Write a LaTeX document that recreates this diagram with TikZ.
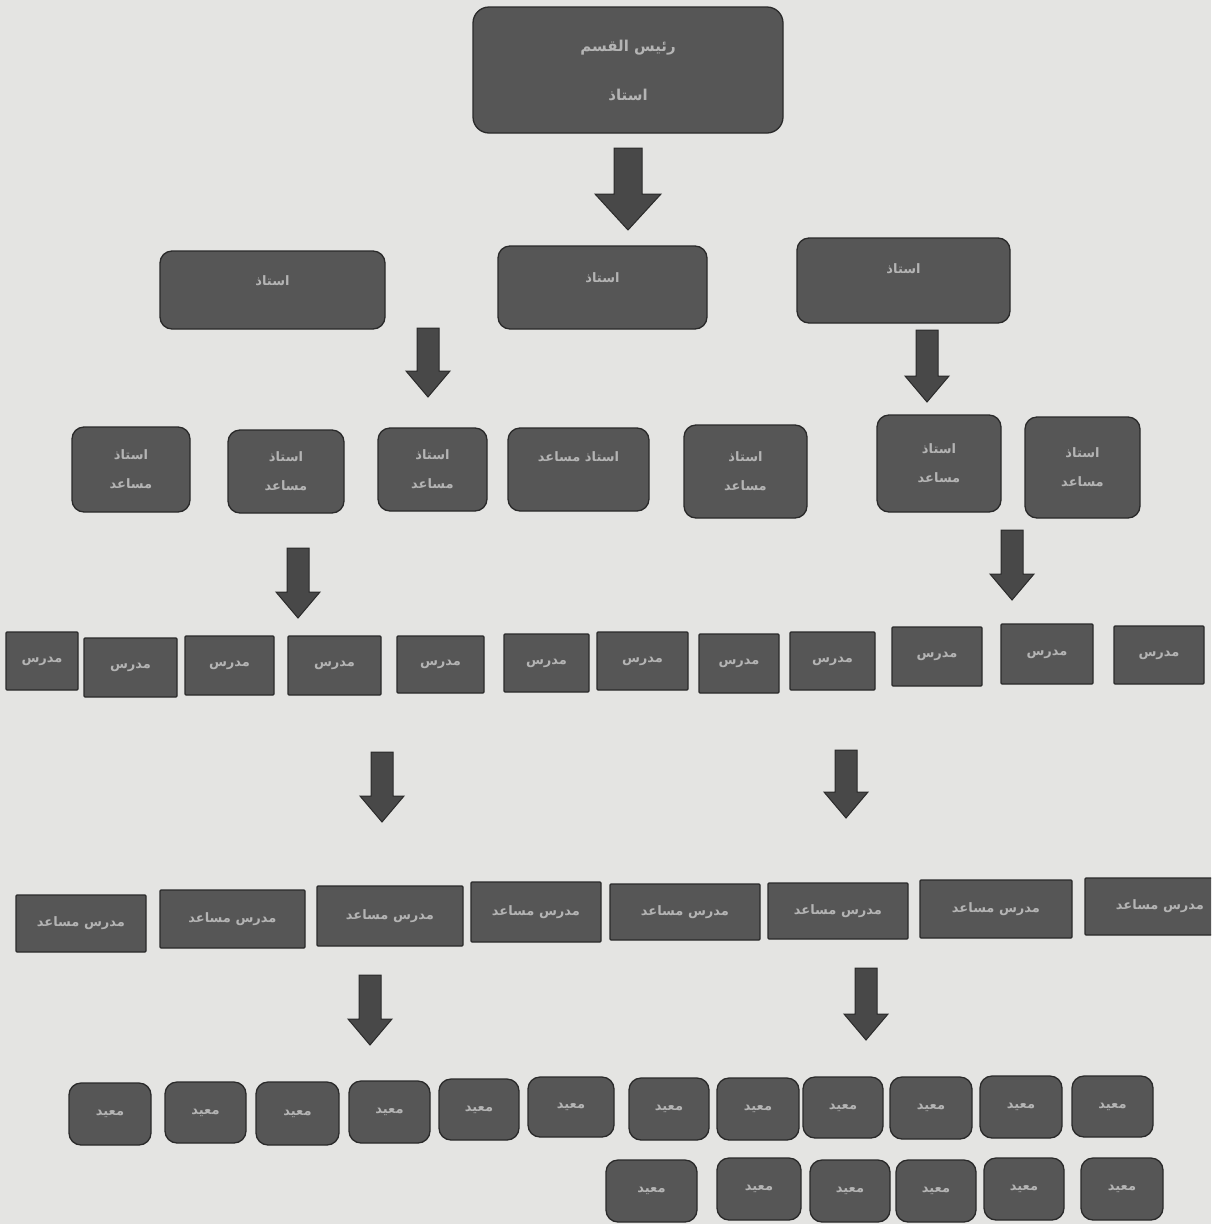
\documentclass[tikz,border=0pt]{standalone}
\usepackage{fontspec}
\newfontfamily\arabicfont[Script=Arabic]{DejaVu Sans}
\TeXXeTstate=1
\usepackage{tikz}

\definecolor{paper}{RGB}{228,228,226}
\definecolor{boxgray}{RGB}{86,86,86}
\definecolor{boxline}{RGB}{42,42,42}
\definecolor{boxtext}{RGB}{180,180,180}
\definecolor{arrowgray}{RGB}{72,72,72}

\newcommand{\artxt}[1]{\beginR #1\endR}
% block arrow: centre x, top y, tip y, shaft half width, head half width, head length
\newcommand{\blkarrow}[6]{%
  \draw[blockarrow] ({#1-#4},#2) -- ({#1+#4},#2) -- ({#1+#4},{#3-#6}) -- ({#1+#5},{#3-#6})
    -- (#1,#3) -- ({#1-#5},{#3-#6}) -- ({#1-#4},{#3-#6}) -- cycle;}

\tikzset{
  post/.style={draw=boxline, fill=boxgray, text=boxtext, line width=1.3pt, inner sep=0pt,
    align=center, font=\arabicfont\bfseries\fontsize{13}{15}\selectfont},
  rbox/.style={post, rounded corners=12pt},
  sbox/.style={post, rounded corners=1pt},
  dims/.style 2 args={minimum width=#1pt, minimum height=#2pt},
  blockarrow/.style={draw=boxline, fill=arrowgray, line width=1pt, line join=miter}
}

\begin{document}
\begin{tikzpicture}[x=1pt,y=-1pt]
    % Page
    \useasboundingbox (0,0) rectangle (1211,1224);
    \clip (0,0) rectangle (1211,1224);
    \fill[paper] (0,0) rectangle (1211,1224);
    % Head of department
    \node (head) at (628,70) [rbox, rounded corners=16pt, dims={310}{126},
      font=\arabicfont\bfseries\fontsize{15}{17}\selectfont]
      {\artxt{رئيس القسم}\\[32pt]\artxt{استاذ}};
    % Professors
    \node (pL) at (272.5,290) [rbox, dims={225}{78}] {\artxt{استاذ}\\[4pt]};
    \node (pM) at (602.5,287.5) [rbox, dims={209}{83}] {\artxt{استاذ}\\[4pt]};
    \node (pR) at (903.5,280.5) [rbox, dims={213}{85}] {\artxt{استاذ}\\[8pt]};
    % Assistant professors
    \node (ap1) at (131,469.5) [rbox, dims={118}{85}] {\artxt{استاذ}\\[14pt]\artxt{مساعد}};
    \node (ap2) at (286,471.5) [rbox, dims={116}{83}] {\artxt{استاذ}\\[14pt]\artxt{مساعد}};
    \node (ap3) at (432.5,469.5) [rbox, dims={109}{83}] {\artxt{استاذ}\\[14pt]\artxt{مساعد}};
    \node (ap4) at (578.5,469.5) [rbox, dims={141}{83}] {\artxt{استاذ مساعد}\\[10pt]};
    \node (ap5) at (745.5,471.5) [rbox, dims={123}{93}] {\artxt{استاذ}\\[14pt]\artxt{مساعد}};
    \node (ap6) at (939,463.5) [rbox, dims={124}{97}] {\artxt{استاذ}\\[14pt]\artxt{مساعد}};
    \node (ap7) at (1082.5,467.5) [rbox, dims={115}{101}] {\artxt{استاذ}\\[14pt]\artxt{مساعد}};
    % Lecturers
    \node (l1) at (42,661) [sbox, dims={72}{58}] {\artxt{مدرس}};
    \node (l2) at (130.5,667.5) [sbox, dims={93}{59}] {\artxt{مدرس}};
    \node (l3) at (229.5,665.5) [sbox, dims={89}{59}] {\artxt{مدرس}};
    \node (l4) at (334.5,665.5) [sbox, dims={93}{59}] {\artxt{مدرس}};
    \node (l5) at (440.5,664.5) [sbox, dims={87}{57}] {\artxt{مدرس}};
    \node (l6) at (546.5,663) [sbox, dims={85}{58}] {\artxt{مدرس}};
    \node (l7) at (642.5,661) [sbox, dims={91}{58}] {\artxt{مدرس}};
    \node (l8) at (739,663.5) [sbox, dims={80}{59}] {\artxt{مدرس}};
    \node (l9) at (832.5,661) [sbox, dims={85}{58}] {\artxt{مدرس}};
    \node (l10) at (937,656.5) [sbox, dims={90}{59}] {\artxt{مدرس}};
    \node (l11) at (1047,654) [sbox, dims={92}{60}] {\artxt{مدرس}};
    \node (l12) at (1159,655) [sbox, dims={90}{58}] {\artxt{مدرس}};
    % Assistant lecturers
    \node (al1) at (81,923.5) [sbox, dims={130}{57}] {\artxt{مدرس مساعد}};
    \node (al2) at (232.5,919) [sbox, dims={145}{58}] {\artxt{مدرس مساعد}};
    \node (al3) at (390,916) [sbox, dims={146}{60}] {\artxt{مدرس مساعد}};
    \node (al4) at (536,912) [sbox, dims={130}{60}] {\artxt{مدرس مساعد}};
    \node (al5) at (685,912) [sbox, dims={150}{56}] {\artxt{مدرس مساعد}};
    \node (al6) at (838,911) [sbox, dims={140}{56}] {\artxt{مدرس مساعد}};
    \node (al7) at (996,909) [sbox, dims={152}{58}] {\artxt{مدرس مساعد}};
    \node (al8) at (1160,906.5) [sbox, dims={150}{57}] {\artxt{مدرس مساعد}};
    % Demonstrators, first row
    \node (d1) at (110,1114) [rbox, dims={82}{62}] {\artxt{معيد}};
    \node (d2) at (205.5,1112.5) [rbox, dims={81}{61}] {\artxt{معيد}};
    \node (d3) at (297.5,1113.5) [rbox, dims={83}{63}] {\artxt{معيد}};
    \node (d4) at (389.5,1112) [rbox, dims={81}{62}] {\artxt{معيد}};
    \node (d5) at (479,1109.5) [rbox, dims={80}{61}] {\artxt{معيد}};
    \node (d6) at (571,1107) [rbox, dims={86}{60}] {\artxt{معيد}};
    \node (d7) at (669,1109) [rbox, dims={80}{62}] {\artxt{معيد}};
    \node (d8) at (758,1109) [rbox, dims={82}{62}] {\artxt{معيد}};
    \node (d9) at (843,1107.5) [rbox, dims={80}{61}] {\artxt{معيد}};
    \node (d10) at (931,1108) [rbox, dims={82}{62}] {\artxt{معيد}};
    \node (d11) at (1021,1107) [rbox, dims={82}{62}] {\artxt{معيد}};
    \node (d12) at (1112.5,1106.5) [rbox, dims={81}{61}] {\artxt{معيد}};
    % Demonstrators, second row
    \node (e1) at (651.5,1191) [rbox, dims={91}{62}] {\artxt{معيد}};
    \node (e2) at (759,1189) [rbox, dims={84}{62}] {\artxt{معيد}};
    \node (e3) at (850,1191) [rbox, dims={80}{62}] {\artxt{معيد}};
    \node (e4) at (936,1191) [rbox, dims={80}{62}] {\artxt{معيد}};
    \node (e5) at (1024,1189) [rbox, dims={80}{62}] {\artxt{معيد}};
    \node (e6) at (1122,1189) [rbox, dims={82}{62}] {\artxt{معيد}};
    % Arrows
    \blkarrow{628}{148}{230}{14}{33}{36}
    \blkarrow{428}{328}{397}{11}{22}{26}
    \blkarrow{927}{330}{402}{11}{22}{26}
    \blkarrow{298}{548}{618}{11}{22}{26}
    \blkarrow{1012}{530}{600}{11}{22}{26}
    \blkarrow{382}{752}{822}{11}{22}{26}
    \blkarrow{846}{750}{818}{11}{22}{26}
    \blkarrow{370}{975}{1045}{11}{22}{26}
    \blkarrow{866}{968}{1040}{11}{22}{26}
\end{tikzpicture}
\end{document}
